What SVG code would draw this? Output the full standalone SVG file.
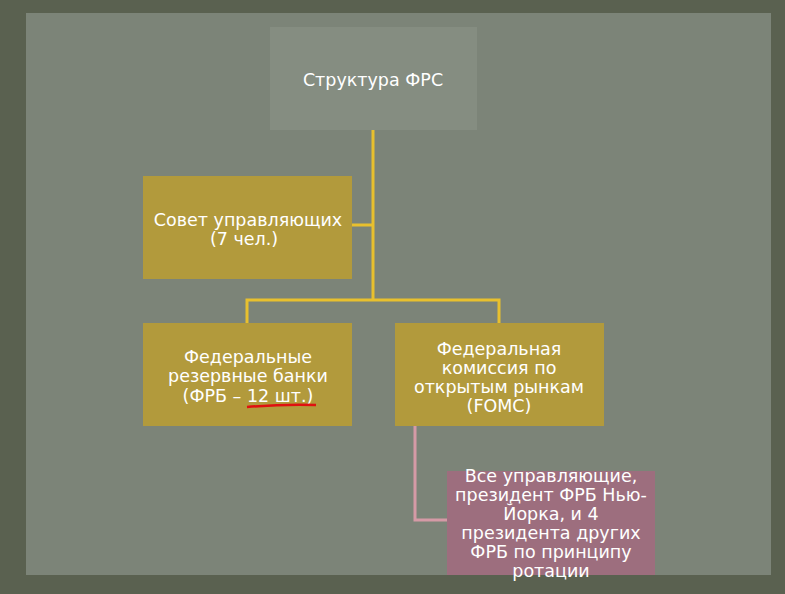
<svg xmlns="http://www.w3.org/2000/svg" width="785" height="594" viewBox="0 0 785 594">
<style>
.t{font-family:"DejaVu Sans","Noto Sans",sans-serif;font-size:17.5px;fill:#fff;text-anchor:middle}
.gold{fill:#b29a3c}
.con{fill:none;stroke:#e8c02e;stroke-width:3}
</style>
<rect x="0" y="0" width="785" height="594" fill="#5a6150"/>
<rect x="26" y="13" width="745" height="562" fill="#7c8478"/>
<g id="connectors">
<path class="con" d="M373 130V300M352 225H373M247 323V300H499V323"/>
<path d="M415 426V520H447" fill="none" stroke="#d59aa6" stroke-width="3"/>
</g>
<g id="title">
<rect x="270" y="27" width="207" height="103" fill="#858d81"/>
<text class="t" x="373" y="86">Структура ФРС</text>
</g>
<g id="sovet">
<rect class="gold" x="143" y="176" width="209" height="103"/>
<text class="t" x="248" y="226">Совет управляющих</text>
<text class="t" x="244" y="245">(7 чел.)</text>
</g>
<g id="frb">
<rect class="gold" x="143" y="323" width="209" height="103"/>
<text class="t" x="248" y="363">Федеральные</text>
<text class="t" x="248" y="382">резервные банки</text>
<text class="t" x="248" y="402">(ФРБ – 12 шт.)</text>
<path d="M247 407Q282 404 316 405" fill="none" stroke="#e01010" stroke-width="2.5"/>
</g>
<g id="fomc">
<rect class="gold" x="395" y="323" width="209" height="103"/>
<text class="t" x="499" y="355">Федеральная</text>
<text class="t" x="499" y="374">комиссия по</text>
<text class="t" x="499" y="393">открытым рынкам</text>
<text class="t" x="499" y="412">(FOMC)</text>
</g>
<g id="members">
<rect x="447" y="471" width="208" height="104" fill="#9d6e7e"/>
<text class="t" x="551" y="482">Все управляющие,</text>
<text class="t" x="551" y="501">президент ФРБ Нью-</text>
<text class="t" x="551" y="520">Йорка, и 4</text>
<text class="t" x="551" y="539">президента других</text>
<text class="t" x="551" y="558">ФРБ по принципу</text>
<text class="t" x="551" y="577">ротации</text>
</g>
</svg>
